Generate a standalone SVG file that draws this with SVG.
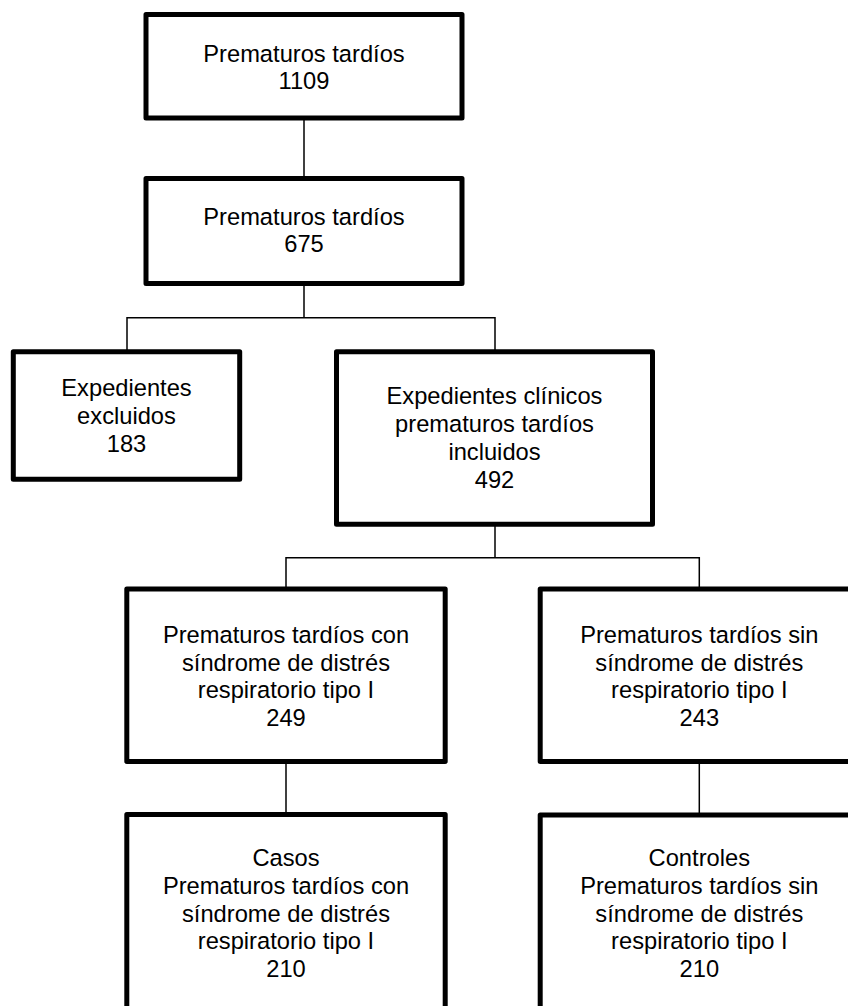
<svg xmlns="http://www.w3.org/2000/svg" width="848" height="1006" viewBox="0 0 848 1006">
<style>
.box{fill:#fff;stroke:#000;stroke-width:5;stroke-linejoin:round}
.lbl{font-family:"Liberation Sans",Arial,sans-serif;font-size:23.7px;fill:#000;text-anchor:middle}
.conn{fill:none;stroke:#000;stroke-width:1.5}
</style>
<rect width="848" height="1006" fill="#fff"/>
<g id="connectors">
<line class="conn" x1="304" y1="118" x2="304" y2="178.5"/>
<polyline class="conn" points="304,283.5 304,317.7"/>
<polyline class="conn" points="127,351.7 127,317.7 495,317.7 495,351.7"/>
<polyline class="conn" points="495,524.3 495,557.7"/>
<polyline class="conn" points="286,589 286,557.7 699.3,557.7 699.3,589"/>
<line class="conn" x1="286" y1="761.5" x2="286" y2="814.5"/>
<line class="conn" x1="699.3" y1="761.5" x2="699.3" y2="814.5"/>
</g>
<g id="n1">
<rect class="box" x="146" y="14.5" width="316" height="103.5"/>
<text class="lbl" x="304" y="61.7">Prematuros tardíos</text>
<text class="lbl" x="304" y="89.3">1109</text>
</g>
<g id="n2">
<rect class="box" x="146" y="178.5" width="316" height="105"/>
<text class="lbl" x="304" y="225">Prematuros tardíos</text>
<text class="lbl" x="304" y="252">675</text>
</g>
<g id="n3">
<rect class="box" x="13.3" y="351.7" width="226.4" height="127.5"/>
<text class="lbl" x="126.5" y="395.7">Expedientes</text>
<text class="lbl" x="126.5" y="423.5">excluidos</text>
<text class="lbl" x="126.5" y="451.5">183</text>
</g>
<g id="n4">
<rect class="box" x="336.5" y="351.8" width="316" height="172.5"/>
<text class="lbl" x="494.5" y="404">Expedientes clínicos</text>
<text class="lbl" x="494.5" y="431.8">prematuros tardíos</text>
<text class="lbl" x="494.5" y="460">incluidos</text>
<text class="lbl" x="494.5" y="488.3">492</text>
</g>
<g id="n5">
<rect class="box" x="126.8" y="589" width="318.4" height="172.5"/>
<text class="lbl" x="286" y="643.3">Prematuros tardíos con</text>
<text class="lbl" x="286" y="670.8">síndrome de distrés</text>
<text class="lbl" x="286" y="698.3">respiratorio tipo I</text>
<text class="lbl" x="286" y="726">249</text>
</g>
<g id="n6">
<rect class="box" x="540.2" y="589" width="318" height="172.5"/>
<text class="lbl" x="699.3" y="643.3">Prematuros tardíos sin</text>
<text class="lbl" x="699.3" y="670.8">síndrome de distrés</text>
<text class="lbl" x="699.3" y="698.3">respiratorio tipo I</text>
<text class="lbl" x="699.3" y="726">243</text>
</g>
<g id="n7">
<rect class="box" x="126.8" y="814.5" width="318.4" height="210"/>
<text class="lbl" x="286" y="866">Casos</text>
<text class="lbl" x="286" y="894">Prematuros tardíos con</text>
<text class="lbl" x="286" y="921.7">síndrome de distrés</text>
<text class="lbl" x="286" y="949.3">respiratorio tipo I</text>
<text class="lbl" x="286" y="976.7">210</text>
</g>
<g id="n8">
<rect class="box" x="540.2" y="815" width="318" height="210"/>
<text class="lbl" x="699.3" y="866">Controles</text>
<text class="lbl" x="699.3" y="894">Prematuros tardíos sin</text>
<text class="lbl" x="699.3" y="921.7">síndrome de distrés</text>
<text class="lbl" x="699.3" y="949.3">respiratorio tipo I</text>
<text class="lbl" x="699.3" y="976.7">210</text>
</g>
</svg>
